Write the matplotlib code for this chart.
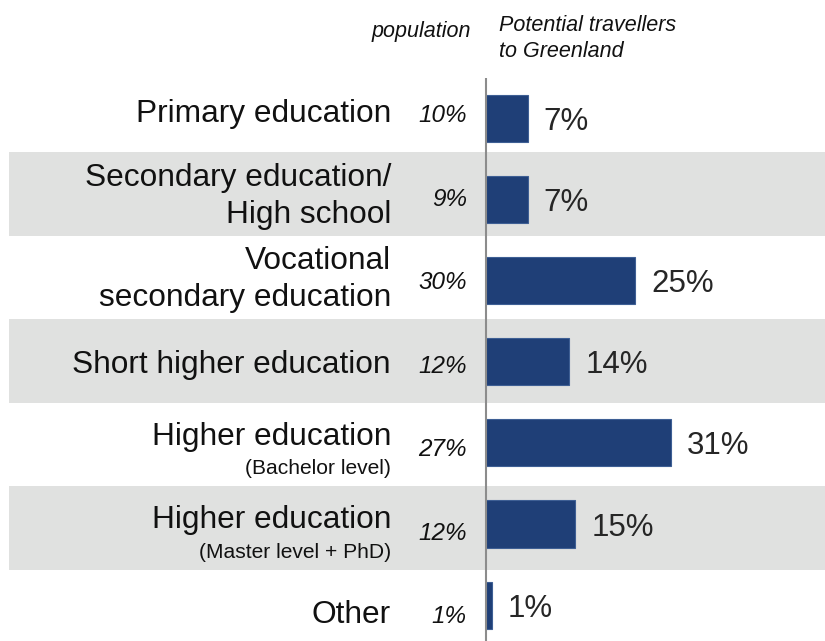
import matplotlib
matplotlib.use("Agg")
import matplotlib.pyplot as plt

plt.rcParams["font.family"] = ["Liberation Sans", "DejaVu Sans"]

CATEGORIES = [
    "Primary education",
    "Secondary education/\nHigh school",
    "Vocational\nsecondary education",
    "Short higher education",
    "Higher education",
    "Higher education",
    "Other",
]
SUBLABELS = ["", "", "", "", "(Bachelor level)", "(Master level + PhD)", ""]
POPULATION = [10, 9, 30, 12, 27, 12, 1]
TRAVELLERS = [7, 7, 25, 14, 31, 15, 1]

BAR_COLOR = "#1F3F77"
BAND_COLOR = "#E0E1E0"
TEXT_COLOR = "#111111"
W, H = 825, 641
PX_PER_PCT = 5.96
ZERO_PX = 486
# bar grid (pixels)
BAR_ROW_PX = 81.1
BAR_FIRST_PX = 118.5
# label / band grid (pixels)
LAB_ROW_PX = 83.45
LAB_FIRST_PX = 110.8


def px_x(px):
    return (px - ZERO_PX) / PX_PER_PCT


def px_y(px):
    return (px - BAR_FIRST_PX) / BAR_ROW_PX


def main() -> None:
    fig = plt.figure(figsize=(W / 100, H / 100), dpi=100)
    ax = fig.add_axes([0, 0, 1, 1])
    ax.set_xlim(px_x(0), px_x(W))
    ax.set_ylim(px_y(H), px_y(0))
    ax.axis("off")

    rows = list(range(len(CATEGORIES)))
    half_band = 42 / BAR_ROW_PX
    for i in rows:
        if i % 2 == 1:
            c = px_y(LAB_FIRST_PX + LAB_ROW_PX * i)
            ax.axhspan(c - half_band, c + half_band, xmin=9 / W, xmax=1,
                       color=BAND_COLOR, lw=0, zorder=0)

    ax.barh(rows, TRAVELLERS, height=0.58, color=BAR_COLOR, edgecolor="#3E5F94",
            linewidth=0.8, zorder=2)
    ax.vlines(0, px_y(78), px_y(H), color="#8C8C8C", lw=1.5, zorder=3)

    for i, (cat, sub, pop, val) in enumerate(zip(CATEGORIES, SUBLABELS, POPULATION, TRAVELLERS)):
        center = LAB_FIRST_PX + LAB_ROW_PX * i
        lines = cat.split("\n")
        if sub:
            baselines = [center, center + 29.5]
            sizes = [22.8, 15.1]
            lines = lines + [sub]
        elif len(lines) == 2:
            baselines = [center - 8.5, center + 28.5]
            sizes = [22.8, 22.8]
        else:
            baselines = [center + 11.5]
            sizes = [22.8]
        for line, base, size in zip(lines, baselines, sizes):
            ax.text(px_x(391), px_y(base), line, ha="right", va="baseline",
                    fontsize=size, color=TEXT_COLOR)
        ax.text(px_x(467), px_y(center + 11.5), f"{pop}%", ha="right", va="baseline",
                fontsize=17.5, style="italic", color=TEXT_COLOR)
        bar_center = BAR_FIRST_PX + BAR_ROW_PX * i
        ax.text(val + 2.7, px_y(bar_center + 11.5), f"{val}%", ha="left", va="baseline",
                fontsize=22.5, color="#262626")

    ax.text(px_x(471), px_y(37), "population", ha="right", va="baseline",
            fontsize=15.5, style="italic", color=TEXT_COLOR)
    for line, base in zip(["Potential travellers", "to Greenland"], [31, 57]):
        ax.text(px_x(499), px_y(base), line, ha="left", va="baseline",
                fontsize=15.5, style="italic", color=TEXT_COLOR)

    fig.savefig("out.png", dpi=100)
    plt.close(fig)


if __name__ == "__main__":
    main()
